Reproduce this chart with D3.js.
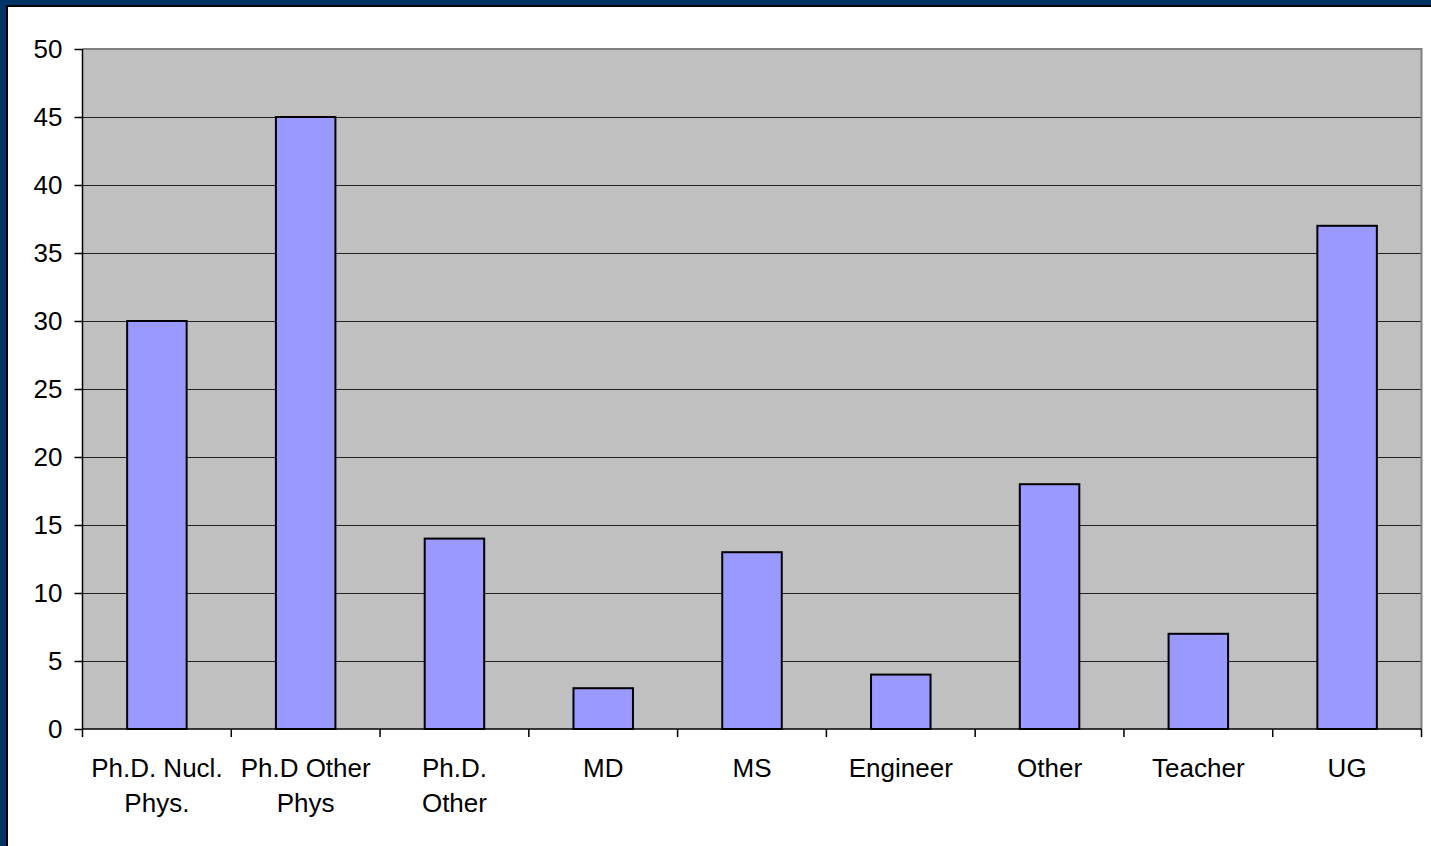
<!DOCTYPE html>
<html><head><meta charset="utf-8">
<script src="https://cdn.jsdelivr.net/npm/d3@7"></script>
<style>html,body{margin:0;padding:0;background:#fff;overflow:hidden}</style>
</head><body>
<svg id="c" width="1431" height="846"></svg>
<script>
const categories = [["Ph.D. Nucl.","Phys."],["Ph.D Other","Phys"],["Ph.D.","Other"],["MD"],["MS"],["Engineer"],["Other"],["Teacher"],["UG"]];
const values = [30, 45, 14, 3, 13, 4, 18, 7, 37];
const yTicks = [0, 5, 10, 15, 20, 25, 30, 35, 40, 45, 50];

const svg = d3.select("#c");
// frame
svg.append("rect").attr("x",0).attr("y",0).attr("width",1431).attr("height",846).attr("fill","#003366");
svg.append("rect").attr("x",6).attr("y",5).attr("width",1425).attr("height",841).attr("fill","#000");
svg.append("rect").attr("x",8).attr("y",7).attr("width",1423).attr("height",839).attr("fill","#fff");

const L = 82.5, R = 1421.5, T = 49, B = 729;
const idx = categories.map((d,i)=>i);
const x = d3.scaleBand().domain(idx).range([L, R]).paddingInner(0.6).paddingOuter(0.3);
const xt = d3.scaleBand().domain(idx).range([L, R]).padding(0);
const y = d3.scaleLinear().domain([0, 50]).range([B, T]);

svg.append("rect").attr("x",L).attr("y",T).attr("width",R-L).attr("height",B-T).attr("fill","#c0c0c0");

// gridlines
svg.append("g").selectAll("line").data(yTicks.filter(d=>d>0 && d<50)).join("line")
  .attr("x1",L).attr("x2",R).attr("y1",d=>Math.round(y(d))+0.5).attr("y2",d=>Math.round(y(d))+0.5)
  .attr("stroke","#222").attr("stroke-width",1);

// border top/right
svg.append("path").attr("d",`M${L},${T} H${R} V${B}`).attr("fill","none").attr("stroke","#808080").attr("stroke-width",2);

// bars
svg.append("g").selectAll("rect").data(values).join("rect")
  .attr("x",(d,i)=>x(i)).attr("width",x.bandwidth())
  .attr("y",d=>y(d)).attr("height",d=>B-y(d))
  .attr("fill","#9999ff").attr("stroke","#000").attr("stroke-width",2);

// y axis
const ya = svg.append("g").attr("transform",`translate(${L},0)`)
  .call(d3.axisLeft(y).tickValues(yTicks).tickSize(8).tickPadding(12).tickFormat(d3.format("d")));
ya.select(".domain").attr("stroke","#000").attr("stroke-width",1.5).attr("d",`M0,${T}V${B}`);
ya.selectAll(".tick line").attr("stroke","#000").attr("stroke-width",1.5);
ya.selectAll(".tick text").attr("font-family","Liberation Sans, Arial, sans-serif").attr("font-size",26).attr("fill","#000");

// x axis
const xa = svg.append("g").attr("transform",`translate(0,${B})`)
  .call(d3.axisBottom(xt).tickValues([]).tickSizeOuter(0));
xa.select(".domain").attr("stroke","#000").attr("stroke-width",1.5).attr("d",`M${L},0H${R}`);
const bounds = idx.map(i=>xt(i)).concat([R]);
xa.selectAll("line.tk").data(bounds).join("line").attr("class","tk")
  .attr("x1",d=>d).attr("x2",d=>d).attr("y1",0).attr("y2",8).attr("stroke","#000").attr("stroke-width",1.5);

const lab = svg.append("g").attr("font-family","Liberation Sans, Arial, sans-serif").attr("font-size",26).attr("fill","#000").attr("text-anchor","middle");
categories.forEach((lines,i)=>{
  const t = lab.append("text").attr("x", xt(i)+xt.bandwidth()/2).attr("y", 777);
  lines.forEach((s,j)=>t.append("tspan").attr("x", xt(i)+xt.bandwidth()/2).attr("dy", j===0?0:35).text(s));
});
</script>
</body></html>
